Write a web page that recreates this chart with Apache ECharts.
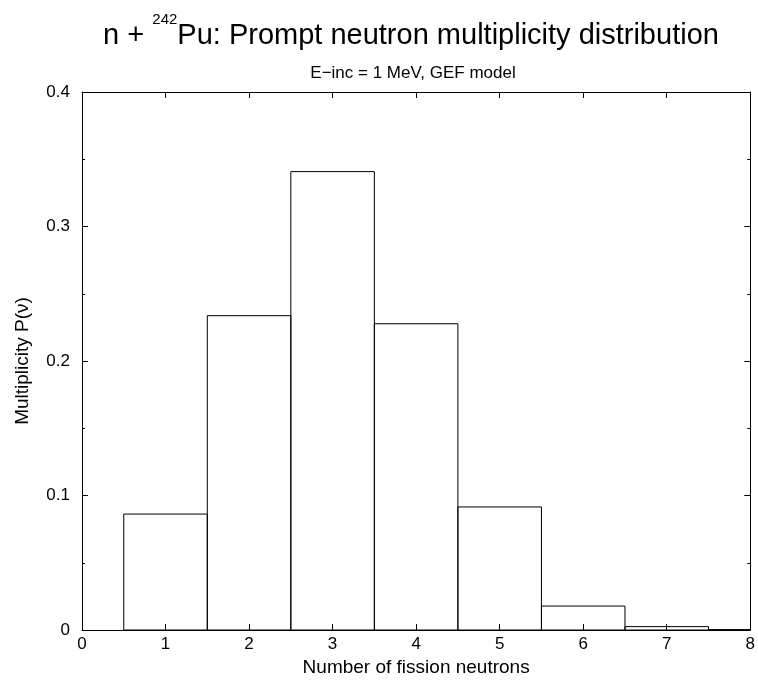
<!DOCTYPE html>
<html>
<head>
<meta charset="utf-8">
<script src="https://cdn.jsdelivr.net/npm/echarts@6/dist/echarts.min.js"></script>
<style>html,body{margin:0;padding:0;background:#fff}#c{width:758px;height:682px}</style>
</head>
<body>
<div id="c"></div>
<script>
const multiplicities = [1, 2, 3, 4, 5, 6, 7, 8];
const probabilities = [0.0862, 0.2337, 0.3408, 0.2277, 0.0915, 0.0178, 0.0025, 0.0003];
const xTicks = [0, 1, 2, 3, 4, 5, 6, 7, 8];
const yTicks = [0, 0.1, 0.2, 0.3, 0.4];

const FONT = 'Liberation Sans, Arial, Helvetica, sans-serif';
const chart = echarts.init(document.getElementById('c'), null, {renderer: 'canvas'});

const data = multiplicities.map((m, i) => [m, probabilities[i]]);

const axisCommon = {
  axisLine: {show: true, onZero: false, lineStyle: {color: '#000', width: 1}},
  splitLine: {show: false}
};

chart.setOption({
  animation: false,
  backgroundColor: '#fff',
  title: [
    {
      text: '{a|n + }{s|242}{a|Pu: Prompt neutron multiplicity distribution}',
      left: 406, top: 7, textAlign: 'center',
      textStyle: {
        fontWeight: 'normal',
        rich: {
          a: {fontFamily: FONT, fontSize: 29, fontWeight: 'normal', color: '#000', lineHeight: 38, verticalAlign: 'bottom'},
          s: {fontFamily: FONT, fontSize: 15, fontWeight: 'normal', color: '#000', lineHeight: 30, verticalAlign: 'top'}
        }
      }
    },
    {
      text: 'E\u2212inc = 1 MeV, GEF model',
      left: 408, top: 60, textAlign: 'center',
      textStyle: {fontFamily: FONT, fontSize: 17, fontWeight: 'normal', color: '#000'}
    }
  ],
  grid: {left: 82, right: 6, top: 92, bottom: 52, containLabel: false},
  xAxis: [
    Object.assign({
      type: 'value', min: 0, max: 8, interval: 1, position: 'bottom',
      name: 'Number of fission neutrons', nameLocation: 'middle', nameGap: 25,
      nameTextStyle: {fontFamily: FONT, fontSize: 19, color: '#000'},
      axisTick: {show: true, inside: true, length: 6, lineStyle: {color: '#000'}},
      axisLabel: {fontFamily: FONT, fontSize: 17, color: '#000', margin: 6,
        formatter: v => (xTicks.indexOf(v) >= 0 ? String(v) : '')}
    }, axisCommon),
    Object.assign({
      type: 'value', min: 0, max: 8, interval: 1, position: 'top',
      axisTick: {show: true, inside: true, length: 6, lineStyle: {color: '#000'}},
      axisLabel: {show: false}
    }, axisCommon)
  ],
  yAxis: [
    Object.assign({
      type: 'value', min: 0, max: 0.4, interval: 0.1, position: 'left',
      name: 'Multiplicity P(\u03bd)', nameLocation: 'middle', nameGap: 50, nameRotate: 90,
      nameTextStyle: {fontFamily: FONT, fontSize: 19, color: '#000'},
      axisTick: {show: true, inside: true, length: 6, lineStyle: {color: '#000'}},
      minorTick: {show: true, splitNumber: 2, length: 3, lineStyle: {color: '#000'}},
      axisLabel: {fontFamily: FONT, fontSize: 17, color: '#000', margin: 12,
        formatter: v => {
          const t = yTicks.find(k => Math.abs(k - v) < 1e-9);
          return t === undefined ? '' : (t === 0 ? '0' : String(t));
        }}
    }, axisCommon),
    Object.assign({
      type: 'value', min: 0, max: 0.4, interval: 0.1, position: 'right',
      axisTick: {show: true, inside: true, length: 6, lineStyle: {color: '#000'}},
      minorTick: {show: true, splitNumber: 2, length: 3, lineStyle: {color: '#000'}},
      axisLabel: {show: false}
    }, axisCommon)
  ],
  series: [{
    type: 'custom',
    xAxisIndex: 0, yAxisIndex: 0,
    data: data,
    clip: true,
    renderItem: function (params, api) {
      const x = api.value(0), y = api.value(1);
      const p0 = api.coord([x - 0.5, y]);
      const p1 = api.coord([x + 0.5, 0]);
      return {
        type: 'rect',
        shape: {x: p0[0], y: p0[1], width: p1[0] - p0[0], height: p1[1] - p0[1]},
        style: {fill: 'rgba(0,0,0,0)', stroke: '#000', lineWidth: 1}
      };
    }
  }]
});
</script>
</body>
</html>
